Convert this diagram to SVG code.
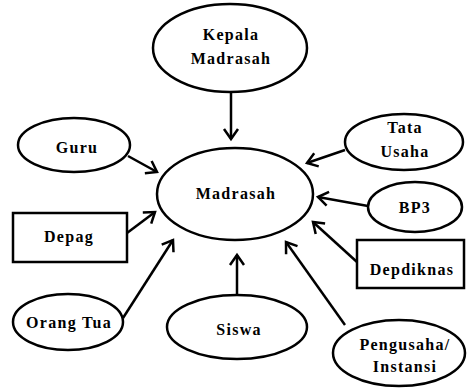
<svg xmlns="http://www.w3.org/2000/svg" width="467" height="389" viewBox="0 0 467 389">
<style>
.n{fill:#fff;stroke:#000;stroke-width:2.5}
.t{font-family:"Liberation Serif","Times New Roman",serif;font-weight:bold;font-size:16px;fill:#000;text-anchor:middle;letter-spacing:1.3px}
.c line{stroke:#000;stroke-width:2.5;marker-end:url(#ah)}
</style>
<defs>
<marker id="ah" markerUnits="userSpaceOnUse" markerWidth="20" markerHeight="20" viewBox="-12 -10 14 20" refX="0" refY="0" orient="auto">
<path d="M-10,-7 L0,0 L-10,7" fill="none" stroke="#000" stroke-width="2.5" stroke-linejoin="miter"/>
</marker>
</defs>
<rect width="467" height="389" fill="#fff"/>
<g class="c" id="connectors">
<line x1="231" y1="92" x2="231" y2="139"/>
<line x1="128" y1="156" x2="157" y2="172"/>
<line x1="127" y1="233" x2="155" y2="212"/>
<line x1="123" y1="318" x2="173" y2="240"/>
<line x1="237" y1="295" x2="237" y2="255"/>
<line x1="345" y1="150" x2="307" y2="163"/>
<line x1="368" y1="206" x2="318" y2="197"/>
<line x1="357" y1="262" x2="313" y2="222"/>
<line x1="345" y1="325" x2="286" y2="242"/>
</g>
<g id="kepala"><ellipse class="n" cx="230" cy="48" rx="77" ry="44"/><text class="t" x="231" y="40">Kepala</text><text class="t" x="231" y="64">Madrasah</text></g>
<g id="madrasah"><ellipse class="n" cx="235" cy="194" rx="78" ry="46"/><text class="t" x="236" y="199">Madrasah</text></g>
<g id="guru"><ellipse class="n" cx="74" cy="145" rx="56" ry="27"/><text class="t" x="77" y="153" letter-spacing="3">Guru</text></g>
<g id="depag"><rect class="n" x="13" y="213" width="114" height="49"/><text class="t" x="69" y="242" letter-spacing="2">Depag</text></g>
<g id="orangtua"><ellipse class="n" cx="68" cy="322" rx="55" ry="28"/><text class="t" x="69" y="328" letter-spacing="1.5">Orang Tua</text></g>
<g id="siswa"><ellipse class="n" cx="237" cy="327" rx="70" ry="32"/><text class="t" x="239" y="335" letter-spacing="2">Siswa</text></g>
<g id="tatausaha"><ellipse class="n" cx="404" cy="142" rx="59" ry="28"/><text class="t" x="405" y="133" letter-spacing="2">Tata</text><text class="t" x="405" y="157" letter-spacing="2.5">Usaha</text></g>
<g id="bp3"><ellipse class="n" cx="415" cy="207" rx="47" ry="25"/><text class="t" x="415" y="213" letter-spacing="2.5">BP3</text></g>
<g id="depdiknas"><rect class="n" x="357" y="240" width="107" height="48"/><text class="t" x="412" y="275" letter-spacing="2">Depdiknas</text></g>
<g id="pengusaha"><ellipse class="n" cx="399" cy="353" rx="66" ry="33"/><text class="t" x="405" y="350">Pengusaha/</text><text class="t" x="405" y="372" letter-spacing="2">Instansi</text></g>
</svg>
